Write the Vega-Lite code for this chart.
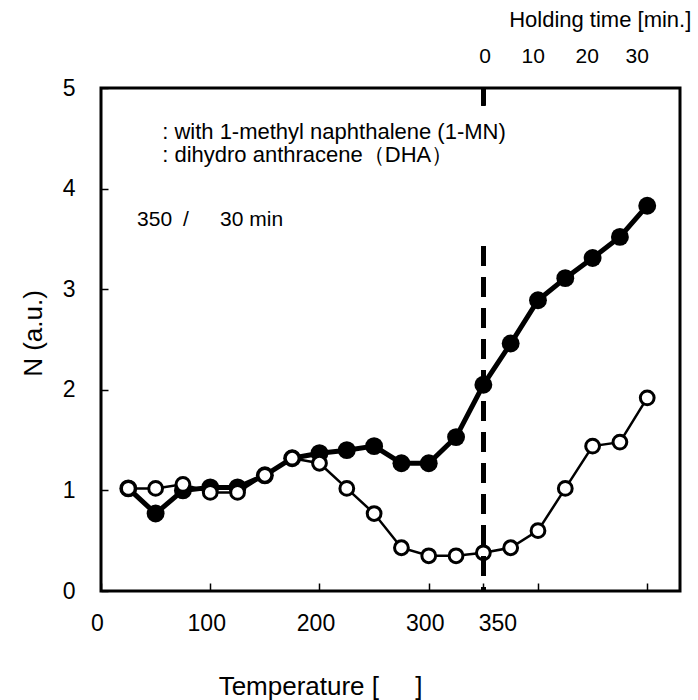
{
  "$schema": "https://vega.github.io/schema/vega-lite/v6.json",
  "width": 579,
  "height": 503,
  "autosize": {"type": "none"},
  "padding": {"left": 101, "top": 88, "right": 18, "bottom": 109},
  "config": {
    "view": {"stroke": "black", "strokeWidth": 3},
    "axis": {"grid": false, "domain": false, "labelColor": "black", "titleColor": "black", "titleFontWeight": "normal", "tickColor": "black"}
  },
  "data": {
    "values": [
      {"s": "1-MN", "x": 25, "n": 1.02},
      {"s": "1-MN", "x": 50, "n": 0.77},
      {"s": "1-MN", "x": 75, "n": 1.0},
      {"s": "1-MN", "x": 100, "n": 1.03},
      {"s": "1-MN", "x": 125, "n": 1.03},
      {"s": "1-MN", "x": 150, "n": 1.15},
      {"s": "1-MN", "x": 175, "n": 1.32},
      {"s": "1-MN", "x": 200, "n": 1.37},
      {"s": "1-MN", "x": 225, "n": 1.4},
      {"s": "1-MN", "x": 250, "n": 1.44},
      {"s": "1-MN", "x": 275, "n": 1.27},
      {"s": "1-MN", "x": 300, "n": 1.27},
      {"s": "1-MN", "x": 325, "n": 1.53},
      {"s": "1-MN", "x": 350, "n": 2.05},
      {"s": "1-MN", "x": 375, "n": 2.46},
      {"s": "1-MN", "x": 400, "n": 2.89},
      {"s": "1-MN", "x": 425, "n": 3.11},
      {"s": "1-MN", "x": 450, "n": 3.31},
      {"s": "1-MN", "x": 475, "n": 3.52},
      {"s": "1-MN", "x": 500, "n": 3.83},
      {"s": "DHA", "x": 25, "n": 1.02},
      {"s": "DHA", "x": 50, "n": 1.02},
      {"s": "DHA", "x": 75, "n": 1.06},
      {"s": "DHA", "x": 100, "n": 0.98},
      {"s": "DHA", "x": 125, "n": 0.98},
      {"s": "DHA", "x": 150, "n": 1.15},
      {"s": "DHA", "x": 175, "n": 1.32},
      {"s": "DHA", "x": 200, "n": 1.27},
      {"s": "DHA", "x": 225, "n": 1.02},
      {"s": "DHA", "x": 250, "n": 0.77},
      {"s": "DHA", "x": 275, "n": 0.43},
      {"s": "DHA", "x": 300, "n": 0.35},
      {"s": "DHA", "x": 325, "n": 0.35},
      {"s": "DHA", "x": 350, "n": 0.38},
      {"s": "DHA", "x": 375, "n": 0.43},
      {"s": "DHA", "x": 400, "n": 0.6},
      {"s": "DHA", "x": 425, "n": 1.02},
      {"s": "DHA", "x": 450, "n": 1.44},
      {"s": "DHA", "x": 475, "n": 1.48},
      {"s": "DHA", "x": 500, "n": 1.92}
    ]
  },
  "encoding": {
    "x": {
      "field": "x", "type": "quantitative",
      "scale": {"domain": [0, 530], "nice": false, "zero": false},
      "axis": {
        "values": [0, 100, 200, 300, 350, 400, 500],
        "labelExpr": "datum.value <= 350 ? datum.label : ''",
        "tickSize": -8, "tickWidth": 1.5,
        "labelPadding": 29, "labelFontSize": 23, "labelFont": "Liberation Sans",
        "labelFlush": false, "labelOverlap": false,
        "labelOffset": {"condition": {"test": "datum.value == 350", "value": 14}, "value": -4},
        "title": "Temperature [\u00a0\u00a0\u00a0\u00a0\u00a0]", "titleFont": "Liberation Sans",
        "titleFontSize": 26, "titleX": 219, "titleY": 95, "titleBaseline": "middle", "titleAlign": "center"
      }
    },
    "y": {
      "field": "n", "type": "quantitative",
      "scale": {"domain": [0, 5], "nice": false},
      "axis": {
        "values": [0, 1, 2, 3, 4, 5],
        "tickSize": -7, "tickWidth": 1.5,
        "labelPadding": 33, "labelFontSize": 23, "labelFont": "Liberation Sans",
        "labelFlush": false,
        "title": "N (a.u.)", "titleFontSize": 26, "titleFont": "Liberation Sans",
        "titleX": -68, "titleY": 245, "titleAngle": -90, "titleBaseline": "middle", "titleAlign": "center"
      }
    }
  },
  "layer": [
    {"transform": [{"filter": "datum.s === '1-MN'"}], "mark": {"type": "line", "color": "black", "strokeWidth": 5}},
    {"transform": [{"filter": "datum.s === '1-MN'"}], "mark": {"type": "point", "shape": "circle", "filled": true, "color": "black", "size": 320, "opacity": 1}},
    {"transform": [{"filter": "datum.s === 'DHA'"}], "mark": {"type": "line", "color": "black", "strokeWidth": 2.5}},
    {"transform": [{"filter": "datum.s === 'DHA'"}], "mark": {"type": "point", "shape": "circle", "filled": true, "fill": "white", "stroke": "black", "strokeWidth": 3, "size": 190, "opacity": 1}},
    {
      "transform": [{"filter": "datum.s === '1-MN' && datum.x === 25"}],
      "mark": {"type": "text", "align": "left", "baseline": "middle", "fontSize": 22, "font": "Liberation Sans", "fill": "black"},
      "encoding": {"x": {"datum": 56}, "y": {"datum": 4.56}, "text": {"value": ": with 1-methyl naphthalene (1-MN)"}}
    },
    {
      "transform": [{"filter": "datum.s === '1-MN' && datum.x === 25"}],
      "mark": {"type": "text", "align": "left", "baseline": "middle", "fontSize": 22, "font": "Liberation Sans", "fill": "black"},
      "encoding": {"x": {"datum": 56}, "y": {"datum": 4.33}, "text": {"value": ": dihydro anthracene\uff08DHA\uff09"}}
    },
    {
      "transform": [{"filter": "datum.s === '1-MN' && datum.x === 25"}],
      "mark": {"type": "text", "align": "left", "baseline": "middle", "fontSize": 21, "font": "Liberation Sans", "fill": "black"},
      "encoding": {"x": {"datum": 33}, "y": {"datum": 3.69}, "text": {"value": "350"}}
    },
    {
      "transform": [{"filter": "datum.s === '1-MN' && datum.x === 25"}],
      "mark": {"type": "text", "align": "left", "baseline": "middle", "fontSize": 21, "font": "Liberation Sans", "fill": "black"},
      "encoding": {"x": {"datum": 75}, "y": {"datum": 3.69}, "text": {"value": "/"}}
    },
    {
      "transform": [{"filter": "datum.s === '1-MN' && datum.x === 25"}],
      "mark": {"type": "text", "align": "left", "baseline": "middle", "fontSize": 21, "font": "Liberation Sans", "fill": "black"},
      "encoding": {"x": {"datum": 109}, "y": {"datum": 3.69}, "text": {"value": "30 min"}}
    },
    {
      "transform": [{"filter": "datum.s === '1-MN' && datum.x === 25"}],
      "mark": {"type": "text", "align": "center", "baseline": "middle", "fontSize": 21, "font": "Liberation Sans", "fill": "black"},
      "encoding": {"x": {"datum": 351.6}, "y": {"datum": 5.31}, "text": {"value": "0"}}
    },
    {
      "transform": [{"filter": "datum.s === '1-MN' && datum.x === 25"}],
      "mark": {"type": "text", "align": "center", "baseline": "middle", "fontSize": 21, "font": "Liberation Sans", "fill": "black"},
      "encoding": {"x": {"datum": 395.6}, "y": {"datum": 5.31}, "text": {"value": "10"}}
    },
    {
      "transform": [{"filter": "datum.s === '1-MN' && datum.x === 25"}],
      "mark": {"type": "text", "align": "center", "baseline": "middle", "fontSize": 21, "font": "Liberation Sans", "fill": "black"},
      "encoding": {"x": {"datum": 445}, "y": {"datum": 5.31}, "text": {"value": "20"}}
    },
    {
      "transform": [{"filter": "datum.s === '1-MN' && datum.x === 25"}],
      "mark": {"type": "text", "align": "center", "baseline": "middle", "fontSize": 21, "font": "Liberation Sans", "fill": "black"},
      "encoding": {"x": {"datum": 490.8}, "y": {"datum": 5.31}, "text": {"value": "30"}}
    },
    {
      "transform": [{"filter": "datum.s === '1-MN' && datum.x === 25"}],
      "mark": {"type": "text", "align": "center", "baseline": "middle", "fontSize": 22, "font": "Liberation Sans", "fill": "black"},
      "encoding": {"x": {"datum": 457}, "y": {"datum": 5.68}, "text": {"value": "Holding time [min.]"}}
    },
    {
      "mark": {"type": "rule", "color": "black", "strokeWidth": 4, "strokeDash": [20, 11]},
      "encoding": {"x": {"datum": 350}, "y": {"datum": 5}, "y2": {"datum": 4.83}}
    },
    {
      "mark": {"type": "rule", "color": "black", "strokeWidth": 4, "strokeDash": [20, 11]},
      "encoding": {"x": {"datum": 350}, "y": {"datum": 3.43}, "y2": {"datum": 0}}
    }
  ]
}
